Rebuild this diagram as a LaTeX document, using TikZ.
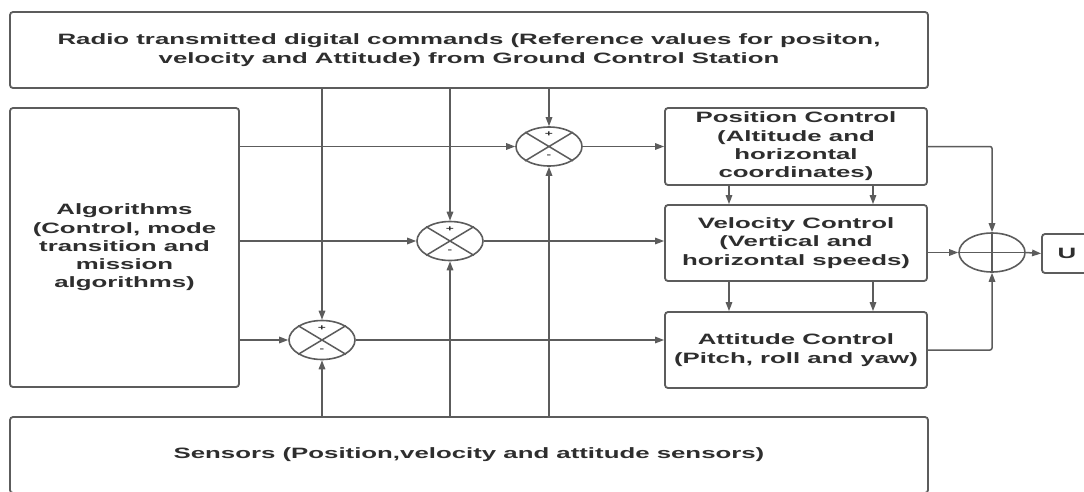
\documentclass[tikz,border=0pt]{standalone}
\usepackage{fontspec}
\setmainfont{Liberation Sans}[FakeStretch=1.72]
\usetikzlibrary{arrows.meta,shapes.geometric,calc}
\definecolor{edge}{gray}{0.36}
\definecolor{wire}{gray}{0.36}
\definecolor{ink}{gray}{0.18}
\tikzset{
  box/.style={draw=edge, line width=1.8pt, rounded corners=3pt, fill=white,
    inner sep=0pt, align=center, text=ink,
    font=\fontsize{15}{18.3}\selectfont\bfseries},
  junction/.style={draw=edge, line width=1.6pt, ellipse, inner sep=0pt,
    minimum width=66pt, minimum height=39pt},
  sgn/.style={inner sep=0pt, text=ink, font=\fontsize{8}{8}\selectfont\bfseries},
  wirearrow/.style={draw=wire, line width=1.5pt,
    -{Triangle[length=9pt,width=6.5pt]}},
  plain/.style={draw=wire, line width=1.5pt},
}
\begin{document}
\begin{tikzpicture}[x=1pt,y=-1pt]
\useasboundingbox[fill=white] (0,0) rectangle (1084,491);

% blocks
\node[box, minimum width=918pt, minimum height=76pt] (top) at (469,50)
  {Radio transmitted digital commands (Reference values for positon,\\
   velocity and Attitude) from Ground Control Station};
\node[box, minimum width=229pt, minimum height=279pt] (alg) at (124.5,247.5)
  {Algorithms\\(Control, mode\\transition and\\mission\\algorithms)};
\node[box, minimum width=918pt, minimum height=76pt] (sen) at (469,455)
  {Sensors (Position,velocity and attitude sensors)};
\node[box, minimum width=262pt, minimum height=77pt] (pos) at (796,146.5)
  {Position Control\\(Altitude and\\horizontal\\coordinates)};
\node[box, minimum width=262pt, minimum height=76pt] (vel) at (796,243)
  {Velocity Control\\(Vertical and\\horizontal speeds)};
\node[box, minimum width=262pt, minimum height=76pt] (att) at (796,350)
  {Attitude Control\\(Pitch, roll and yaw)};
\node[box, minimum width=50pt, minimum height=39pt] (U) at (1067,253.5) {U};

% comparators
\foreach \n/\x/\y in {s1/549/146.5, s2/450/241, s3/322/340} {
  \node[junction] (\n) at (\x,\y) {};
  \draw[plain] (\n.31) -- (\n.211) (\n.149) -- (\n.329);
  \node[sgn] (\n p) at ($(\n)+(0,-12)$) {+};
  \node[sgn] (\n m) at ($(\n)+(0,10)$) {-};
}

% output summing point
\node[junction] (sum) at (992,252.5) {};
\draw[plain] (sum.north) -- (sum.south) (sum.west) -- (sum.east);

% references from the ground station
\draw[wirearrow] (top.south -| s1.north) -- (s1.north);
\draw[wirearrow] (top.south -| s2.north) -- (s2.north);
\draw[wirearrow] (top.south -| s3.north) -- (s3.north);

% feedback from the sensors
\draw[wirearrow] (sen.north -| s1.south) -- (s1.south);
\draw[wirearrow] (sen.north -| s2.south) -- (s2.south);
\draw[wirearrow] (sen.north -| s3.south) -- (s3.south);

% algorithm inputs
\draw[wirearrow] (alg.east |- s1.west) -- (s1.west);
\draw[wirearrow] (alg.east |- s2.west) -- (s2.west);
\draw[wirearrow] (alg.east |- s3.west) -- (s3.west);

% errors into the controllers
\draw[wirearrow] (s1.east) -- (pos.west |- s1.east);
\draw[wirearrow] (s2.east) -- (vel.west |- s2.east);
\draw[wirearrow] (s3.east) -- (att.west |- s3.east);

% cascade between the controllers
\coordinate (ca) at (729,0);
\coordinate (cb) at (873,0);
\draw[wirearrow] (pos.south -| ca) -- (vel.north -| ca);
\draw[wirearrow] (pos.south -| cb) -- (vel.north -| cb);
\draw[wirearrow] (vel.south -| ca) -- (att.north -| ca);
\draw[wirearrow] (vel.south -| cb) -- (att.north -| cb);

% controller outputs to the summing point
\draw[wirearrow, rounded corners=2pt] (pos.east) -- (pos.east -| sum.north) -- (sum.north);
\draw[wirearrow] (vel.east |- sum.west) -- (sum.west);
\draw[wirearrow, rounded corners=2pt] (att.east) -- (att.east -| sum.south) -- (sum.south);
\draw[wirearrow] (sum.east) -- (U.west);
\end{tikzpicture}
\end{document}
